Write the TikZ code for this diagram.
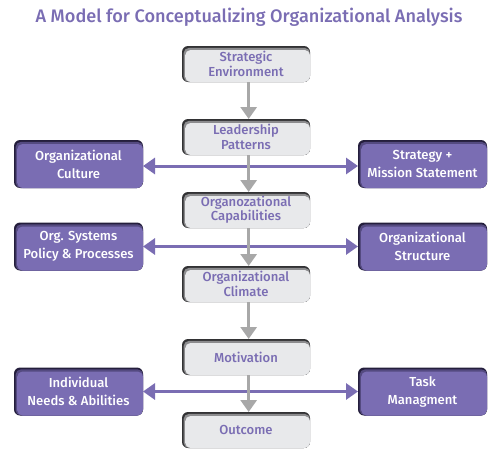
\documentclass[tikz,border=0pt]{standalone}
\usepackage{fontspec}
\setmainfont{Fira Sans}[BoldFont={Fira Sans Medium}]
\usetikzlibrary{arrows.meta}

\definecolor{lilac}{RGB}{122,109,179}
\definecolor{lilacdark}{RGB}{36,30,60}
\definecolor{lilacmid}{RGB}{84,74,128}
\definecolor{paper}{RGB}{232,233,235}
\definecolor{paperdark}{RGB}{50,50,52}
\definecolor{papermid}{RGB}{140,140,142}
\definecolor{arrowgray}{RGB}{168,168,168}

\tikzset{every picture/.style={line width=0.75pt}}
\tikzset{
  flowbox/.style={rounded corners=4.5pt, inner sep=0pt, outer sep=0pt,
    minimum width=96pt, minimum height=27pt, align=center,
    font=\bfseries\fontsize{9.8}{10.8}\selectfont, text=lilac, fill=paperdark,
    path picture={
      \fill[papermid, rounded corners=4pt] ([shift={(1.2pt,-1.4pt)}]path picture bounding box.north west) rectangle (path picture bounding box.south east);
      \fill[paper, rounded corners=4pt] ([shift={(2.4pt,-3pt)}]path picture bounding box.north west) rectangle (path picture bounding box.south east);
    }},
  sidebox/.style={rounded corners=4.5pt, inner sep=0pt, outer sep=0pt,
    minimum width=96.75pt, minimum height=36pt, align=center,
    font=\bfseries\fontsize{9.8}{13.5}\selectfont, text=white, fill=lilacdark,
    path picture={
      \fill[lilacmid, rounded corners=4pt] ([shift={(1.2pt,-1.4pt)}]path picture bounding box.north west) rectangle (path picture bounding box.south east);
      \fill[lilac, rounded corners=4pt] ([shift={(2.4pt,-3pt)}]path picture bounding box.north west) rectangle (path picture bounding box.south east);
    }},
  downarrow/.style={draw=arrowgray, line width=2.25pt, -{Triangle[width=12pt,length=9pt]}},
  linkarrow/.style={draw=lilac, line width=2.25pt, {Triangle[width=12pt,length=9pt]}-{Triangle[width=12pt,length=9pt]}}
}

\begin{document}
\begin{tikzpicture}[x=0.75pt,y=-0.75pt]
\useasboundingbox (0,0) rectangle (500,464);

%Title
\node[text=lilac, font=\bfseries\fontsize{13.6}{16}\selectfont] (title) at (249,17) {A Model for Conceptualizing Organizational Analysis};

%Center column
\node[flowbox] (env) at (246,64) {Strategic\\Environment};
\node[flowbox] (lead) at (246,137) {Leadership\\Patterns};
\node[flowbox] (capab) at (246,210) {Organozational\\Capabilities};
\node[flowbox] (climate) at (246,284) {Organizational\\Climate};
\node[flowbox] (motiv) at (246,357) {Motivation};
\node[flowbox] (outcome) at (246,430) {Outcome};

%Left column
\node[sidebox] (culture) at (78.5,164) {Organizational\\Culture};
\node[sidebox] (systems) at (78.5,246.5) {Org. Systems\\Policy \& Processes};
\node[sidebox] (needs) at (78.5,391.5) {Individual\\Needs \& Abilities};

%Right column
\node[sidebox] (strategy) at (422.5,164) {Strategy +\\Mission Statement};
\node[sidebox] (structure) at (422.5,246.5) {Organizational\\Structure};
\node[sidebox] (task) at (422.5,391.5) {Task\\Managment};

%Side links
\draw[linkarrow] ([yshift=-1.5pt]culture.east) -- ([yshift=-1.5pt]strategy.west);
\draw[linkarrow] (systems.east) -- (structure.west);
\draw[linkarrow] (needs.east) -- (task.west);

%Flow
\draw[downarrow] ([xshift=2pt]env.south) -- ([xshift=2pt]lead.north);
\draw[downarrow] ([xshift=2pt]lead.south) -- ([xshift=2pt]capab.north);
\draw[downarrow] ([xshift=2pt]capab.south) -- ([xshift=2pt]climate.north);
\draw[downarrow] ([xshift=2pt]climate.south) -- ([xshift=2pt]motiv.north);
\draw[downarrow] ([xshift=2pt]motiv.south) -- ([xshift=2pt]outcome.north);

\end{tikzpicture}
\end{document}
